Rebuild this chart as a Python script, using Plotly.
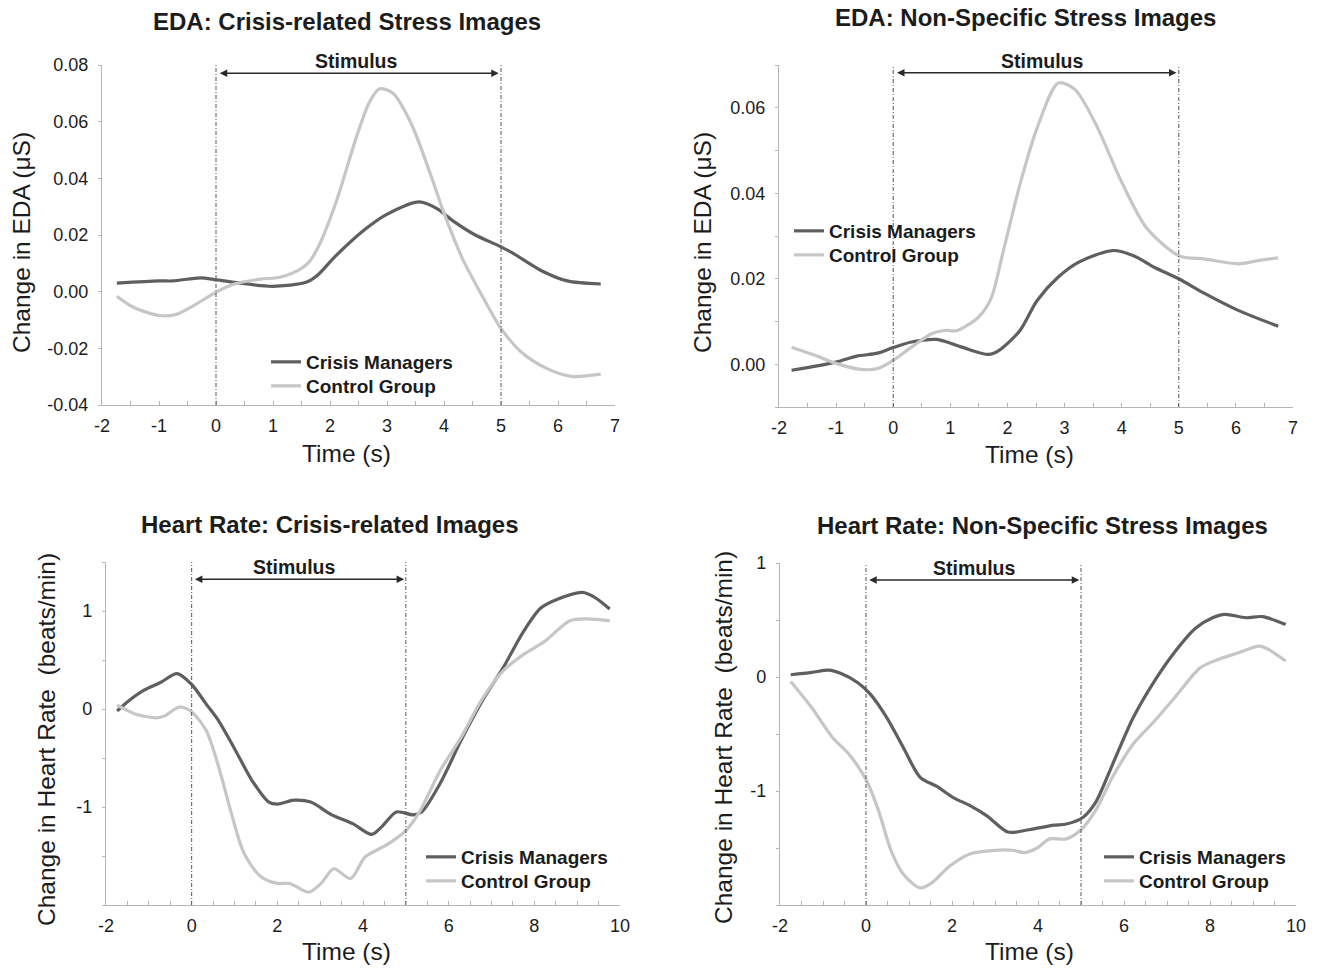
import plotly.graph_objects as go

# ---------------- data ----------------
series_names = ["Crisis Managers", "Control Group"]

# Panel A: EDA, crisis-related stress images
eda_crisis_t_cm = [-1.74, -1.0, -0.75, -0.27, 0.0, 0.32, 0.99, 1.58, 1.77, 2.1, 2.61, 2.98, 3.57, 3.87, 4.17, 4.54, 4.98, 5.2, 5.72, 6.16, 6.75]
eda_crisis_cm = [0.003, 0.0038, 0.0038, 0.0049, 0.0042, 0.0033, 0.0019, 0.0033, 0.0056, 0.0126, 0.0219, 0.0271, 0.0317, 0.0294, 0.0248, 0.0201, 0.016, 0.0137, 0.0073, 0.0038, 0.0027]
eda_crisis_t_cg = [-1.74, -1.45, -1.0, -0.71, -0.34, 0.0, 0.32, 0.77, 1.1, 1.36, 1.62, 1.8, 2.1, 2.48, 2.7, 2.87, 3.1, 3.43, 3.8, 4.0, 4.33, 4.7, 4.98, 5.35, 5.79, 6.23, 6.75]
eda_crisis_cg = [-0.0016, -0.0055, -0.0084, -0.0081, -0.0043, -0.0002, 0.0027, 0.0044, 0.005, 0.0067, 0.0102, 0.016, 0.0312, 0.0556, 0.0672, 0.0716, 0.0701, 0.0591, 0.0393, 0.0277, 0.0114, -0.0026, -0.0124, -0.0212, -0.027, -0.0299, -0.0291]

# Panel B: EDA, non-specific stress images
eda_nonspec_t_cm = [-1.78, -1.0, -0.64, -0.27, 0.0, 0.32, 0.76, 1.2, 1.67, 1.86, 2.22, 2.52, 2.89, 3.25, 3.84, 4.21, 4.57, 5.0, 5.46, 6.04, 6.74]
eda_nonspec_cm = [-0.0014, 0.0005, 0.0019, 0.0026, 0.0039, 0.0052, 0.0058, 0.004, 0.0023, 0.0033, 0.0079, 0.0149, 0.0204, 0.0239, 0.0266, 0.0254, 0.0227, 0.02, 0.0165, 0.0126, 0.0089]
eda_nonspec_t_cg = [-1.78, -1.37, -1.0, -0.57, -0.27, 0.0, 0.32, 0.68, 0.9, 1.12, 1.49, 1.71, 1.93, 2.22, 2.52, 2.89, 3.18, 3.55, 3.99, 4.43, 5.0, 5.46, 6.04, 6.41, 6.74]
eda_nonspec_cg = [0.004, 0.0021, 0.0002, -0.0012, -0.001, 0.0009, 0.004, 0.0072, 0.0079, 0.0079, 0.011, 0.0153, 0.0266, 0.0421, 0.0553, 0.0658, 0.0643, 0.0561, 0.0429, 0.032, 0.0254, 0.0246, 0.0235, 0.0243, 0.0249]

# Panel C: heart rate, crisis-related images
hr_crisis_t_cm = [-1.74, -1.51, -1.12, -0.73, -0.34, 0.0, 0.34, 0.63, 1.02, 1.41, 1.8, 2.0, 2.39, 2.78, 3.27, 3.76, 4.2, 4.44, 4.78, 5.17, 5.37, 5.8, 6.29, 6.78, 7.27, 7.76, 8.15, 8.54, 9.12, 9.41, 9.76]
hr_crisis_cm = [-0.02, 0.07, 0.19, 0.27, 0.36, 0.25, 0.05, -0.12, -0.42, -0.73, -0.95, -0.97, -0.93, -0.95, -1.08, -1.17, -1.28, -1.2, -1.05, -1.08, -1.05, -0.76, -0.32, 0.08, 0.42, 0.8, 1.03, 1.12, 1.19, 1.14, 1.02]
hr_crisis_t_cg = [-1.74, -1.32, -0.83, -0.63, -0.29, 0.0, 0.34, 0.63, 0.93, 1.22, 1.61, 2.0, 2.29, 2.73, 3.02, 3.32, 3.71, 4.05, 4.54, 4.98, 5.32, 5.8, 6.29, 6.78, 7.27, 7.76, 8.24, 8.83, 9.22, 9.76]
hr_crisis_cg = [0.04, -0.05, -0.09, -0.07, 0.02, -0.03, -0.22, -0.59, -1.07, -1.47, -1.71, -1.78, -1.78, -1.87, -1.78, -1.63, -1.73, -1.51, -1.39, -1.25, -1.05, -0.63, -0.29, 0.1, 0.39, 0.56, 0.69, 0.9, 0.92, 0.9]

# Panel D: heart rate, non-specific stress images
hr_nonspec_t_cm = [-1.75, -1.26, -0.87, -0.58, -0.19, 0.1, 0.49, 0.87, 1.26, 1.65, 2.04, 2.43, 2.82, 3.3, 3.79, 4.37, 4.66, 5.05, 5.34, 5.73, 6.21, 6.7, 7.18, 7.67, 8.06, 8.35, 8.83, 9.22, 9.76]
hr_nonspec_cm = [0.02, 0.04, 0.06, 0.03, -0.05, -0.15, -0.36, -0.62, -0.88, -0.96, -1.06, -1.13, -1.22, -1.36, -1.34, -1.3, -1.29, -1.23, -1.1, -0.77, -0.36, -0.04, 0.22, 0.43, 0.52, 0.55, 0.52, 0.53, 0.46]
hr_nonspec_t_cg = [-1.75, -1.26, -0.78, -0.39, 0.0, 0.29, 0.58, 0.87, 1.26, 1.55, 1.94, 2.43, 3.01, 3.4, 3.69, 3.98, 4.27, 4.66, 5.0, 5.34, 5.73, 6.21, 6.7, 7.18, 7.77, 8.16, 8.64, 9.13, 9.32, 9.76]
hr_nonspec_cg = [-0.04, -0.27, -0.53, -0.68, -0.9, -1.17, -1.52, -1.73, -1.85, -1.8, -1.66, -1.55, -1.52, -1.52, -1.54, -1.5, -1.42, -1.42, -1.34, -1.17, -0.88, -0.59, -0.39, -0.18, 0.08, 0.15, 0.21, 0.27, 0.25, 0.14]

panel_titles = ["EDA: Crisis-related Stress Images", "EDA: Non-Specific Stress Images",
                "Heart Rate: Crisis-related Images", "Heart Rate: Non-Specific Stress Images"]
y_titles = ["Change in EDA (μS)", "Change in EDA (μS)",
            "Change in Heart Rate  (beats/min)", "Change in Heart Rate  (beats/min)"]
x_title = "Time (s)"
stimulus_label = "Stimulus"
stimulus_window = [0, 5]

# tick values / labels
eda_x_tickvals = [-2, -1.5, -1, -0.5, 0, 0.5, 1, 1.5, 2, 2.5, 3, 3.5, 4, 4.5, 5, 5.5, 6, 6.5, 7]
eda_x_ticktext = ["-2", "", "-1", "", "0", "", "1", "", "2", "", "3", "", "4", "", "5", "", "6", "", "7"]
hr_x_tickvals = [-2, -1.5, -1, -0.5, 0, 0.5, 1, 1.5, 2, 2.5, 3, 3.5, 4, 4.5, 5, 5.5, 6, 6.5, 7, 7.5, 8, 8.5, 9, 9.5, 10]
hr_x_ticktext = ["-2", "", "", "", "0", "", "", "", "2", "", "", "", "4", "", "", "", "6", "", "", "", "8", "", "", "", "10"]
eda1_y_tickvals = [-0.04, -0.02, 0.0, 0.02, 0.04, 0.06, 0.08]
eda1_y_ticktext = ["-0.04", "-0.02", "0.00", "0.02", "0.04", "0.06", "0.08"]
eda2_y_tickvals = [-0.01, 0.0, 0.01, 0.02, 0.03, 0.04, 0.05, 0.06, 0.07]
eda2_y_ticktext = ["", "0.00", "", "0.02", "", "0.04", "", "0.06", ""]
hr1_y_tickvals = [-2, -1.5, -1, -0.5, 0, 0.5, 1, 1.5]
hr1_y_ticktext = ["", "", "-1", "", "0", "", "1", ""]
hr2_y_tickvals = [-2, -1.5, -1, -0.5, 0, 0.5, 1]
hr2_y_ticktext = ["", "", "-1", "", "0", "", "1"]

# ---------------- styling ----------------
W, H = 1317, 969
FONT = "Liberation Sans, Arial, Helvetica, sans-serif"
DARK = "#5f5f5f"
LIGHT = "#c6c6c6"
AXIS = "#b5b5b5"
TXT = "#1c1c1c"


def px_x(p):
    return p / W


def px_y(p):
    return 1 - p / H


panels = [
    dict(dom_x=(102, 615), dom_y=(65, 405), xr=[-2, 7], yr=[-0.04, 0.08],
         xtv=eda_x_tickvals, xtt=eda_x_ticktext, ytv=eda1_y_tickvals, ytt=eda1_y_ticktext,
         data=[(eda_crisis_t_cm, eda_crisis_cm), (eda_crisis_t_cg, eda_crisis_cg)],
         title=(347, 22), xt=(347, 453), yt=(21, 243), stim_x=2.45, stim_y=1.012, arr_y=0.976,
         leg_x=266, leg_y=(362, 386)),
    dict(dom_x=(779, 1293), dom_y=(65, 407), xr=[-2, 7], yr=[-0.01, 0.07],
         xtv=eda_x_tickvals, xtt=eda_x_ticktext, ytv=eda2_y_tickvals, ytt=eda2_y_ticktext,
         data=[(eda_nonspec_t_cm, eda_nonspec_cm), (eda_nonspec_t_cg, eda_nonspec_cg)],
         title=(1025, 18), xt=(1029, 455), yt=(702, 243), stim_x=2.6, stim_y=1.012, arr_y=0.977,
         leg_x=789, leg_y=(231, 255)),
    dict(dom_x=(106, 620), dom_y=(562, 905), xr=[-2, 10], yr=[-2, 1.5],
         xtv=hr_x_tickvals, xtt=hr_x_ticktext, ytv=hr1_y_tickvals, ytt=hr1_y_ticktext,
         data=[(hr_crisis_t_cm, hr_crisis_cm), (hr_crisis_t_cg, hr_crisis_cg)],
         title=(329, 524), xt=(347, 951), yt=(46, 740), stim_x=2.4, stim_y=0.985, arr_y=0.95,
         leg_x=421, leg_y=(857, 881)),
    dict(dom_x=(780, 1296), dom_y=(563, 905), xr=[-2, 10], yr=[-2, 1],
         xtv=hr_x_tickvals, xtt=hr_x_ticktext, ytv=hr2_y_tickvals, ytt=hr2_y_ticktext,
         data=[(hr_nonspec_t_cm, hr_nonspec_cm), (hr_nonspec_t_cg, hr_nonspec_cg)],
         title=(1042, 525), xt=(1029, 951), yt=(723, 738), stim_x=2.5, stim_y=0.985, arr_y=0.95,
         leg_x=1099, leg_y=(857, 881)),
]

fig = go.Figure()
layout = dict(template="none", width=W, height=H,
              margin=dict(l=0, r=0, t=0, b=0, pad=0, autoexpand=False),
              paper_bgcolor="white", plot_bgcolor="white",
              font=dict(family=FONT, color=TXT), showlegend=True)
annotations = []
shapes = []

leg_count = 0
for i, p in enumerate(panels):
    n = i + 1
    sfx = "" if n == 1 else str(n)
    xa, ya = "x" + sfx, "y" + sfx
    for j, ((t, v), name, col) in enumerate(zip(p["data"], series_names, [DARK, LIGHT])):
        leg_count += 1
        legname = "legend" if leg_count == 1 else "legend" + str(leg_count)
        fig.add_trace(go.Scatter(x=t, y=v, mode="lines", name=name,
                                 line=dict(color=col, width=3.2, shape="spline", smoothing=0.8),
                                 xaxis=xa, yaxis=ya, legend=legname, hoverinfo="skip"))
        layout[legname] = dict(x=px_x(p["leg_x"]), y=px_y(p["leg_y"][j] - 19),
                               xanchor="left", yanchor="top",
                               bgcolor="rgba(0,0,0,0)", itemwidth=30,
                               font=dict(size=19, color=TXT, family=FONT, weight="bold"))
    layout["xaxis" + sfx] = dict(
        domain=[px_x(p["dom_x"][0]), px_x(p["dom_x"][1])], anchor=ya, range=p["xr"],
        automargin=False,
        tickmode="array", tickvals=p["xtv"], ticktext=p["xtt"], ticks="inside", ticklen=4,
        tickcolor=AXIS, showline=True, linecolor=AXIS, linewidth=1.2, showgrid=False,
        zeroline=False, tickfont=dict(size=18, color=TXT, family=FONT), ticklabelstandoff=4)
    layout["yaxis" + sfx] = dict(
        domain=[px_y(p["dom_y"][1]), px_y(p["dom_y"][0])], anchor=xa, range=p["yr"],
        automargin=False,
        tickmode="array", tickvals=p["ytv"], ticktext=p["ytt"], ticks="outside", ticklen=3,
        tickcolor=AXIS, showline=True, linecolor=AXIS, linewidth=1.2, showgrid=False,
        zeroline=False, tickfont=dict(size=18, color=TXT, family=FONT), ticklabelstandoff=6)
    # titles
    annotations.append(dict(text=panel_titles[i], xref="paper", yref="paper",
                            x=px_x(p["title"][0]), y=px_y(p["title"][1]), xanchor="center", yanchor="middle",
                            showarrow=False, font=dict(size=24, color=TXT, family=FONT, weight="bold")))
    annotations.append(dict(text=x_title, xref="paper", yref="paper",
                            x=px_x(p["xt"][0]), y=px_y(p["xt"][1]), xanchor="center", yanchor="middle",
                            showarrow=False, font=dict(size=24.5, color=TXT, family=FONT)))
    annotations.append(dict(text=y_titles[i], xref="paper", yref="paper", textangle=-90,
                            x=px_x(p["yt"][0]), y=px_y(p["yt"][1]), xanchor="center", yanchor="middle",
                            showarrow=False, font=dict(size=24.5, color=TXT, family=FONT)))
    # stimulus label and arrow
    annotations.append(dict(text=stimulus_label, xref=xa, yref=ya + " domain",
                            x=p["stim_x"], y=p["stim_y"], xanchor="center", yanchor="middle",
                            showarrow=False, font=dict(size=19.5, color=TXT, family=FONT, weight="bold")))
    annotations.append(dict(text="", xref=xa, yref=ya + " domain",
                            x=stimulus_window[1] - 0.04, y=p["arr_y"],
                            ax=stimulus_window[0] + 0.04, ay=0, axref=xa, ayref="pixel",
                            showarrow=True, arrowhead=2, arrowside="end+start",
                            arrowsize=1, arrowwidth=1.5, arrowcolor="#2a2a2a"))
    for sx in stimulus_window:
        shapes.append(dict(type="line", xref=xa, yref=ya + " domain", x0=sx, x1=sx, y0=0, y1=1,
                           line=dict(color="#555555", width=1, dash="4px,2px,1px,2px")))

layout["annotations"] = annotations
layout["shapes"] = shapes
fig.update_layout(**layout)

fig.write_html("out.html", config={"displayModeBar": False},
               post_script="document.body.style.margin='0';document.body.style.padding='0';")
